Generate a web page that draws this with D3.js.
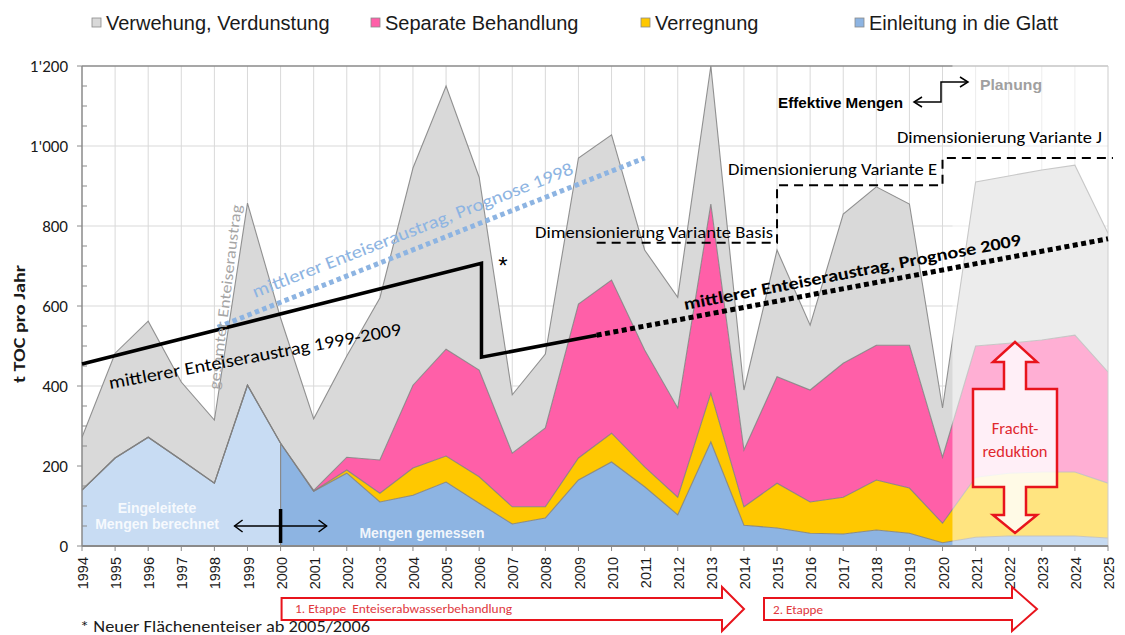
<!DOCTYPE html>
<html><head><meta charset="utf-8">
<script src="https://cdn.jsdelivr.net/npm/d3@7"></script>
<style>body{margin:0;background:#fff}svg{display:block}</style>
</head><body><svg id="c" width="1125" height="635"></svg>
<script>
// ---------- data ----------
const years = d3.range(1994, 2026);
const einleitung = [140,220,272,215,157,402,257,137,182,110,127,160,107,55,70,165,210,148,78,260,52,45,32,30,40,32,8,22,25,25,25,20];
const verregnung = [0,0,0,0,0,0,0,0,8,22,68,65,66,43,28,55,72,50,44,122,46,112,78,92,125,113,49,150,157,160,160,137];
const separate   = [0,0,0,0,0,0,0,2,32,83,207,267,267,134,197,385,383,292,223,473,142,266,280,335,337,357,165,328,325,330,342,278];
const verwehung  = [132,262,290,195,158,455,313,179,253,405,543,658,482,146,185,365,363,250,277,345,150,317,162,373,396,353,123,410,418,425,425,347];
const seriesNames = ["Verwehung, Verdunstung","Separate Behandlung","Verregnung","Einleitung in die Glatt"];
const yTicks = [0,200,400,600,800,1000,1200];
const yTickLabels = ["0","200","400","600","800","1'000","1'200"];
const mittel1999_2009 = [[1994,455],[2006.07,707],[2006.07,472],[2009.55,527]];
const prognose2009 = [[2009.55,527],[2025,768]];
const prognose1998 = [[1998.1,547],[2011,970]];
const dimensionierung = [[2009.55,758],[2015,758],[2015,902],[2020,902],[2020,970],[2025.15,970]];
const measuredFrom = 2000;
const planningFrom = 2020.3;

// ---------- setup ----------
const svg = d3.select("#c");
const X = d3.scaleLinear().domain([1994, 2025]).range([82, 1108]);
const Y = d3.scaleLinear().domain([0, 1200]).range([546, 66]);
const CAL = "Carlito, Lato, 'Open Sans', sans-serif";
const ARI = "'Liberation Sans', Arial, sans-serif";

const colors = {gray:"#D9D9D9", pink:"#FF5FA8", yellow:"#FFC800", blue:"#8DB4E2", lightblue:"#C8DCF3"};

const table = years.map((yr, i) => ({year: yr, blue: einleitung[i], yellow: verregnung[i], pink: separate[i], gray: verwehung[i]}));
const stack = d3.stack().keys(["blue","yellow","pink","gray"])(table);

const defs = svg.append("defs");
defs.append("clipPath").attr("id","plot").append("rect").attr("x",82).attr("y",66).attr("width",1026).attr("height",480);
defs.append("clipPath").attr("id","calc").append("rect").attr("x",82).attr("y",60).attr("width",X(measuredFrom)-82).attr("height",490);
defs.append("clipPath").attr("id","meas").append("rect").attr("x",X(measuredFrom)).attr("y",60).attr("width",1108-X(measuredFrom)).attr("height",490);

// grid
const grid = svg.append("g").attr("stroke","#d9d9d9").attr("stroke-width",1);
years.filter(yr => yr > 1994 && yr < 2025).forEach(yr => {
  grid.append("line").attr("x1",X(yr)).attr("x2",X(yr)).attr("y1",Y(1200)).attr("y2",Y(0));
});
yTicks.filter(v => v > 0 && v < 1200).forEach(v => {
  grid.append("line").attr("x1",X(1994)).attr("x2",X(2025)).attr("y1",Y(v)).attr("y2",Y(v));
});

// areas
const area = d3.area().x(d => X(d.data.year)).y0(d => Y(d[0])).y1(d => Y(d[1]));
const topLine = d3.line().x(d => X(d.data.year)).y(d => Y(d[1]));
const plot = svg.append("g").attr("clip-path","url(#plot)");
const fills = {gray: colors.gray, pink: colors.pink, yellow: colors.yellow};
stack.forEach(layer => {
  if (layer.key === "blue") {
    plot.append("path").datum(layer).attr("d", area).attr("fill", colors.lightblue).attr("clip-path","url(#calc)");
    plot.append("path").datum(layer).attr("d", area).attr("fill", colors.blue).attr("clip-path","url(#meas)");
  } else {
    plot.append("path").datum(layer).attr("d", area).attr("fill", fills[layer.key]);
  }
});
stack.slice().reverse().forEach(layer => {
  plot.append("path").datum(layer).attr("d", topLine).attr("fill","none")
    .attr("stroke", "#808080").attr("stroke-opacity", 0.85).attr("stroke-width", 1.1);
});
// boundary computed / measured
const iM = years.indexOf(measuredFrom);
plot.append("line").attr("x1",X(measuredFrom)).attr("x2",X(measuredFrom)).attr("y1",Y(0)).attr("y2",Y(einleitung[iM]))
  .attr("stroke","#8a8a8a").attr("stroke-width",1.2);

// frame & axes
svg.append("line").attr("x1",X(1994)).attr("x2",X(2025)).attr("y1",Y(1200)).attr("y2",Y(1200)).attr("stroke","#8a8a8a").attr("stroke-width",1.5);
svg.append("line").attr("x1",X(2025)).attr("x2",X(2025)).attr("y1",Y(1200)).attr("y2",Y(0)).attr("stroke","#9a9a9a").attr("stroke-width",1);
svg.append("line").attr("x1",X(1994)).attr("x2",X(1994)).attr("y1",Y(1200)).attr("y2",Y(0)).attr("stroke","#8a8a8a").attr("stroke-width",1.5);

// planning overlay
svg.append("rect").attr("x",X(planningFrom)).attr("y",Y(1200)-1.5).attr("width",X(2025)-X(planningFrom)+2).attr("height",Y(0)-Y(1200)+1)
  .attr("fill","#fff").attr("fill-opacity",0.5);

svg.append("line").attr("x1",X(1994)).attr("x2",X(2025)).attr("y1",Y(0)).attr("y2",Y(0)).attr("stroke","#8a8a8a").attr("stroke-width",2);

// y ticks
const yt = svg.append("g").attr("stroke","#8a8a8a").attr("stroke-width",1);
d3.range(50, 1200, 50).filter(v => v % 200 !== 0).forEach(v => {
  yt.append("line").attr("x1",X(1994)).attr("x2",X(1994)+5).attr("y1",Y(v)).attr("y2",Y(v));
});
yTicks.forEach(v => yt.append("line").attr("x1",X(1994)-5).attr("x2",X(1994)).attr("y1",Y(v)).attr("y2",Y(v)));
yTicks.forEach((v, i) => {
  svg.append("text").attr("x",68).attr("y",Y(v)).attr("dy","0.35em").attr("text-anchor","end")
    .attr("font-family",CAL).attr("font-size",17).attr("fill","#1a1a1a").text(yTickLabels[i]);
});
// x ticks
years.forEach(yr => {
  svg.append("line").attr("x1",X(yr)).attr("x2",X(yr)).attr("y1",Y(0)).attr("y2",Y(0)+5).attr("stroke","#8a8a8a");
  svg.append("text").attr("transform",`translate(${X(yr)+1},${Y(0)+11}) rotate(-90)`).attr("dy","0.35em")
    .attr("text-anchor","end").attr("font-family",ARI).attr("font-size",14.5).attr("fill","#1a1a1a").text(yr);
});

// y title
svg.append("text").attr("transform","translate(25,324) rotate(-90)").attr("text-anchor","middle")
  .attr("font-family",CAL).attr("font-weight","bold").attr("font-size",15).attr("fill","#1a1a1a")
  .attr("textLength",118).attr("lengthAdjust","spacingAndGlyphs").text("t TOC pro Jahr");

// ---------- lines ----------
const ln = d3.line().x(d => X(d[0])).y(d => Y(d[1]));
svg.append("path").attr("d", ln(prognose1998)).attr("fill","none").attr("stroke","#8DB4E2")
  .attr("stroke-width",5).attr("stroke-dasharray","4.5,3.5");
svg.append("path").attr("d", ln(mittel1999_2009)).attr("fill","none").attr("stroke","#000")
  .attr("stroke-width",3.5).attr("stroke-linejoin","miter");
svg.append("path").attr("d", ln(prognose2009)).attr("fill","none").attr("stroke","#000")
  .attr("stroke-width",5).attr("stroke-dasharray","5,3.5");
svg.append("path").attr("d", ln(dimensionierung)).attr("fill","none").attr("stroke","#000")
  .attr("stroke-width",2).attr("stroke-dasharray","9,6");

// ---------- text annotations ----------
function label(txt, x, y, angle, size, opts = {}) {
  const t = svg.append("text").attr("transform",`translate(${x},${y}) rotate(${angle})`)
    .attr("font-family", opts.family || CAL).attr("font-size", size)
    .attr("fill", opts.fill || "#000").attr("font-weight", opts.weight || "normal")
    .attr("text-anchor", opts.anchor || "start").style("white-space","pre").text(txt);
  if (opts.len) t.attr("textLength", opts.len).attr("lengthAdjust","spacingAndGlyphs");
  return t;
}
label("gesamter Enteiseraustrag", 219, 390, -83, 15.5, {fill:"#a6a6a6", len:186});
label("mittlerer Enteiseraustrag, Prognose 1998", 255, 298, -21.3, 18, {fill:"#8DB4E2", len:343});
label("mittlerer Enteiseraustrag 1999-2009", 110, 389, -10.5, 18, {len:297});
label("mittlerer Enteiseraustrag, Prognose 2009", 685, 310, -10.9, 17, {weight:"bold", len:343});
label("*", 503, 274, 0, 24, {anchor:"middle", family:ARI});
label("Dimensionierung Variante Basis", 535, 238, 0, 16, {len:238});
label("Dimensionierung Variante E", 728, 175, 0, 16, {len:209});
label("Dimensionierung Variante J", 897, 143, 0, 16, {len:205});
label("Effektive Mengen", 778, 108, 0, 14, {family:ARI, weight:"bold", len:125});
label("Planung", 980, 90, 0, 15, {family:ARI, weight:"bold", fill:"#a0a0a0", len:62});
label("Eingeleitete", 157, 513, 0, 14, {family:ARI, weight:"bold", fill:"#fff", anchor:"middle"}).attr("fill-opacity",0.85);
label("Mengen berechnet", 157, 529, 0, 14, {family:ARI, weight:"bold", fill:"#fff", anchor:"middle"}).attr("fill-opacity",0.85);
label("Mengen gemessen", 422, 538, 0, 14, {family:ARI, weight:"bold", fill:"#fff", anchor:"middle"}).attr("fill-opacity",0.9);

// connector arrows (Effektive Mengen / Planung)
const ax = svg.append("g").attr("fill","none").attr("stroke","#000").attr("stroke-width",1.5);
ax.append("path").attr("d","M914,102 L941,102 L941,82 L968,82");
ax.append("path").attr("d","M922,97 L914,102 L922,107");
ax.append("path").attr("d","M960,77 L968,82 L960,87");
// 2000 marker arrow
const mx = X(measuredFrom);
ax.append("path").attr("d",`M${mx-46},526 L${mx+46},526`);
ax.append("path").attr("d",`M${mx-38},520 L${mx-46},526 L${mx-38},532`);
ax.append("path").attr("d",`M${mx+38},520 L${mx+46},526 L${mx+38},532`);
svg.append("line").attr("x1",mx).attr("x2",mx).attr("y1",509).attr("y2",543).attr("stroke","#000").attr("stroke-width",3.5);

// Frachtreduktion double arrow
const cx = X(2022.19);
const fr = [[0,342],[22,362],[11,362],[11,389],[42,389],[42,487],[11,487],[11,515],[22,515],[0,533],
            [-22,515],[-11,515],[-11,487],[-42,487],[-42,389],[-11,389],[-11,362],[-22,362]];
svg.append("path").attr("d","M"+fr.map(p => [cx+p[0],p[1]].join(",")).join("L")+"Z")
  .attr("fill","#fff").attr("fill-opacity",0.8).attr("stroke","#e8141c").attr("stroke-width",2.5);
label("Fracht-", cx, 434, 0, 16.5, {fill:"#e0282e", anchor:"middle"});
label("reduktion", cx, 457, 0, 16.5, {fill:"#e0282e", anchor:"middle"});

// Etappen arrows
function hArrow(x0, x1, tip) {
  const p = [[x0,598],[x1,598],[x1,587],[tip,609],[x1,631],[x1,620],[x0,620]];
  svg.append("path").attr("d","M"+p.map(q => q.join(",")).join("L")+"Z")
    .attr("fill","#fff").attr("stroke","#e8141c").attr("stroke-width",2);
}
hArrow(X(2000)+1, 722, 744);
hArrow(764, 1012, 1037);
label("1. Etappe  Enteiserabwasserbehandlung", 295, 613, 0, 12, {fill:"#e0383e", len:217});
label("2. Etappe", 773, 614, 0, 12, {fill:"#e0383e", len:50});
label("* Neuer Flächenenteiser ab 2005/2006", 80, 632, 0, 16, {fill:"#1a1a1a", len:290});

// ---------- legend ----------
const legColors = [colors.gray, colors.pink, colors.yellow, colors.blue];
const legX = [92, 371, 641, 855];
seriesNames.forEach((n, i) => {
  svg.append("rect").attr("x",legX[i]).attr("y",18).attr("width",9).attr("height",9)
    .attr("fill",legColors[i]).attr("stroke","#8a8a8a").attr("stroke-width",0.8);
  svg.append("text").attr("x",legX[i]+14).attr("y",30).attr("font-family",ARI).attr("font-size",20)
    .attr("fill","#1a1a1a").text(n);
});
</script></body></html>
